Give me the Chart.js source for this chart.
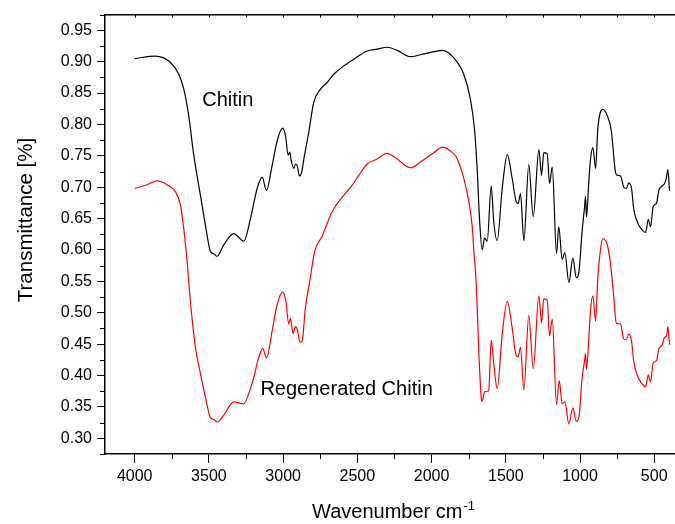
<!DOCTYPE html>
<html>
<head>
<meta charset="utf-8">
<script src="https://cdn.jsdelivr.net/npm/chart.js@4.4.0/dist/chart.umd.min.js"></script>
<style>
  html, body { margin: 0; padding: 0; background: #fff; overflow: hidden; }
  #wrap { width: 675px; height: 524px; position: relative; }
</style>
</head>
<body>
<div id="wrap"><canvas id="c"></canvas></div>
<script>
// FTIR spectra: wavenumber (cm-1) and transmittance
const chitinWavenumber = [
  4000, 3861, 3760, 3703, 3670, 3636, 3602, 3557, 3524, 3490, 3468, 3445, 3400, 3333, 3265, 3220,
  3175, 3141, 3112, 3074, 3040, 3003, 2984, 2966, 2955, 2946, 2928, 2917, 2906, 2890, 2877, 2856,
  2827, 2794, 2749, 2703, 2659, 2592, 2524, 2434, 2367, 2299, 2232, 2142, 2075, 1985, 1928, 1850,
  1783, 1738, 1711, 1693, 1677, 1659, 1643, 1625, 1598, 1581, 1558, 1524, 1490, 1457, 1430, 1416,
  1401, 1378, 1345, 1315, 1277, 1259, 1244, 1221, 1205, 1187, 1158, 1143, 1120, 1102, 1075, 1048,
  1025, 1008, 985, 969, 963, 956, 940, 929, 913, 895, 880, 846, 816, 789, 761, 749,
  727, 705, 688, 671, 653, 637, 614, 592, 558, 540, 525, 507, 484, 469, 446, 430,
  417, 408, 397
];
const chitinTransmittance = [
  0.905, 0.909, 0.899, 0.880, 0.857, 0.814, 0.751, 0.687, 0.640, 0.598, 0.594, 0.590, 0.608, 0.626, 0.614, 0.650,
  0.698, 0.716, 0.695, 0.735, 0.774, 0.794, 0.782, 0.751, 0.756, 0.743, 0.730, 0.737, 0.735, 0.718, 0.722, 0.751,
  0.788, 0.835, 0.856, 0.867, 0.880, 0.893, 0.904, 0.917, 0.920, 0.923, 0.918, 0.908, 0.911, 0.916, 0.918, 0.906,
  0.880, 0.840, 0.793, 0.730, 0.650, 0.600, 0.619, 0.614, 0.702, 0.645, 0.615, 0.698, 0.752, 0.714, 0.677, 0.674,
  0.690, 0.615, 0.736, 0.653, 0.760, 0.719, 0.755, 0.753, 0.706, 0.732, 0.594, 0.637, 0.585, 0.596, 0.548, 0.587,
  0.556, 0.564, 0.632, 0.669, 0.686, 0.653, 0.711, 0.745, 0.763, 0.730, 0.793, 0.824, 0.814, 0.790, 0.724, 0.719,
  0.718, 0.700, 0.698, 0.707, 0.698, 0.664, 0.645, 0.635, 0.628, 0.649, 0.637, 0.669, 0.675, 0.695, 0.702, 0.706,
  0.716, 0.728, 0.694
];

const regenWavenumber = [
  4000, 3916, 3849, 3782, 3726, 3692, 3670, 3647, 3625, 3591, 3557, 3524, 3490, 3468, 3445, 3400,
  3333, 3265, 3232, 3198, 3164, 3137, 3112, 3074, 3045, 3005, 2982, 2962, 2951, 2933, 2917, 2902,
  2888, 2872, 2850, 2821, 2787, 2737, 2670, 2592, 2535, 2490, 2434, 2367, 2299, 2232, 2142, 2075,
  1985, 1928, 1850, 1827, 1783, 1749, 1726, 1715, 1699, 1682, 1666, 1659, 1643, 1625, 1615, 1598,
  1581, 1558, 1524, 1490, 1457, 1430, 1416, 1401, 1378, 1345, 1315, 1277, 1259, 1244, 1221, 1205,
  1187, 1158, 1140, 1120, 1102, 1075, 1048, 1025, 1008, 985, 969, 963, 956, 940, 929, 913,
  895, 880, 866, 846, 816, 794, 772, 756, 727, 705, 688, 671, 653, 637, 614, 592,
  558, 540, 525, 507, 484, 469, 446, 430, 417, 408, 397
];
const regenTransmittance = [
  0.698, 0.704, 0.710, 0.704, 0.693, 0.672, 0.635, 0.582, 0.519, 0.445, 0.403, 0.366, 0.333, 0.330, 0.326, 0.337,
  0.358, 0.355, 0.371, 0.397, 0.429, 0.443, 0.428, 0.471, 0.508, 0.533, 0.519, 0.482, 0.491, 0.467, 0.478, 0.471,
  0.453, 0.455, 0.508, 0.550, 0.598, 0.622, 0.661, 0.687, 0.703, 0.719, 0.737, 0.745, 0.754, 0.745, 0.731, 0.740,
  0.755, 0.764, 0.753, 0.745, 0.714, 0.677, 0.637, 0.598, 0.546, 0.440, 0.366, 0.359, 0.374, 0.375, 0.376, 0.457,
  0.419, 0.379, 0.466, 0.518, 0.476, 0.432, 0.430, 0.445, 0.377, 0.496, 0.411, 0.527, 0.484, 0.522, 0.520, 0.463,
  0.490, 0.354, 0.392, 0.355, 0.358, 0.323, 0.348, 0.327, 0.333, 0.398, 0.424, 0.435, 0.410, 0.461, 0.505, 0.527,
  0.487, 0.556, 0.593, 0.618, 0.608, 0.577, 0.524, 0.484, 0.482, 0.458, 0.457, 0.466, 0.455, 0.421, 0.400, 0.390,
  0.382, 0.401, 0.390, 0.420, 0.424, 0.442, 0.449, 0.461, 0.463, 0.478, 0.449
];

const xMajorTicks = [4000, 3500, 3000, 2500, 2000, 1500, 1000, 500];
const xMinorTicks = [3750, 3250, 2750, 2250, 1750, 1250, 750];
const yMajorTicks = [0.30, 0.35, 0.40, 0.45, 0.50, 0.55, 0.60, 0.65, 0.70, 0.75, 0.80, 0.85, 0.90, 0.95];
const yMinorTicks = [0.275, 0.325, 0.375, 0.425, 0.475, 0.525, 0.575, 0.625, 0.675, 0.725, 0.775, 0.825, 0.875, 0.925, 0.975];

const seriesNames = ['Chitin', 'Regenerated Chitin'];
const xTitle = 'Wavenumber cm';
const xTitleSup = '-1';
const yTitle = 'Transmittance [%]';

const FONT = '"Liberation Sans", Arial, Helvetica, sans-serif';
Chart.defaults.font.family = FONT;
Chart.defaults.color = '#000';

const pairs = (xs, ys) => xs.map((x, i) => ({ x: x, y: ys[i] }));

// minor ticks, top-axis ticks, curve labels and the axis titles
const decorations = {
  id: 'decorations',
  afterDraw(chart, args, opts) {
    const { ctx, chartArea: a, scales: { x, y } } = chart;
    ctx.save();
    ctx.strokeStyle = '#000';
    ctx.lineWidth = 1;
    ctx.beginPath();
    xMinorTicks.forEach(v => {
      const px = Math.round(x.getPixelForValue(v)) + 0.5;
      ctx.moveTo(px, a.bottom); ctx.lineTo(px, a.bottom + 5);
    });
    xMajorTicks.concat(xMinorTicks).forEach(v => {
      const px = Math.round(x.getPixelForValue(v)) + 0.5;
      ctx.moveTo(px, a.top); ctx.lineTo(px, a.top + 3);
    });
    yMinorTicks.forEach(v => {
      const py = Math.round(y.getPixelForValue(v)) + 0.5;
      ctx.moveTo(a.left - 5, py); ctx.lineTo(a.left, py);
    });
    ctx.stroke();

    ctx.fillStyle = '#000';
    ctx.textBaseline = 'alphabetic';
    ctx.textAlign = 'left';
    ctx.font = '20px ' + FONT;
    opts.labels.forEach(l => {
      ctx.fillText(l.text, x.getPixelForValue(l.at[0]), y.getPixelForValue(l.at[1]));
    });

    // x-axis title with superscript unit exponent
    ctx.font = '20px ' + FONT;
    const w1 = ctx.measureText(xTitle).width;
    ctx.font = '13px ' + FONT;
    const w2 = ctx.measureText(xTitleSup).width;
    const start = (a.left + a.right) / 2 + 3 - (w1 + w2) / 2;
    ctx.font = '20px ' + FONT;
    ctx.fillText(xTitle, start, 518);
    ctx.font = '13px ' + FONT;
    ctx.fillText(xTitleSup, start + w1 + 1, 510);

    // y-axis title, rotated
    ctx.save();
    ctx.translate(32, 220);
    ctx.rotate(-Math.PI / 2);
    ctx.font = '20.5px ' + FONT;
    ctx.textAlign = 'center';
    ctx.textBaseline = 'alphabetic';
    ctx.fillText(yTitle, 0, 0);
    ctx.restore();

    ctx.restore();
  }
};

new Chart(document.getElementById('c'), {
  type: 'line',
  data: {
    datasets: [
      {
        label: seriesNames[0],
        data: pairs(chitinWavenumber, chitinTransmittance),
        borderColor: '#000000',
        borderWidth: 1.2,
        pointRadius: 0,
        cubicInterpolationMode: 'monotone',
        fill: false
      },
      {
        label: seriesNames[1],
        data: pairs(regenWavenumber, regenTransmittance),
        borderColor: '#ff0000',
        borderWidth: 1.2,
        pointRadius: 0,
        cubicInterpolationMode: 'monotone',
        fill: false
      }
    ]
  },
  options: {
    responsive: true,
    maintainAspectRatio: false,
    animation: false,
    layout: { padding: { top: 12, left: 0, right: 0, bottom: 0 } },
    plugins: {
      legend: { display: false },
      tooltip: { enabled: false },
      decorations: {
        labels: [
          { text: seriesNames[0], at: [3545, 0.829] },
          { text: seriesNames[1], at: [3153, 0.369] }
        ]
      }
    },
    scales: {
      x: {
        type: 'linear',
        position: 'bottom',
        reverse: true,
        min: 360,
        max: 4200,
        afterBuildTicks: s => { s.ticks = xMajorTicks.map(v => ({ value: v })); },
        afterFit: s => { s.height = 70; },
        ticks: {
          autoSkip: false,
          maxRotation: 0,
          padding: 4,
          color: '#000',
          font: { size: 16 },
          callback: v => String(v)
        },
        grid: { display: true, drawOnChartArea: false, drawTicks: true, tickLength: 9, tickColor: '#000', tickWidth: 1 },
        border: { display: true, color: '#000', width: 1.5 }
      },
      x2: {
        type: 'linear',
        position: 'top',
        reverse: true,
        min: 360,
        max: 4200,
        afterFit: s => { s.height = 0; },
        ticks: { display: false },
        grid: { display: true, drawOnChartArea: false, drawTicks: false },
        border: { display: true, color: '#000', width: 1.5 }
      },
      y: {
        type: 'linear',
        position: 'left',
        min: 0.275,
        max: 0.975,
        afterBuildTicks: s => { s.ticks = yMajorTicks.map(v => ({ value: v })); },
        afterFit: s => { s.width = 105; },
        ticks: {
          padding: 5,
          color: '#000',
          font: { size: 16 },
          callback: v => v.toFixed(2)
        },
        grid: { display: true, drawOnChartArea: false, drawTicks: true, tickLength: 8, tickColor: '#000', tickWidth: 1 },
        border: { display: true, color: '#000', width: 1.5 }
      }
    }
  },
  plugins: [decorations]
});
</script>
</body>
</html>
